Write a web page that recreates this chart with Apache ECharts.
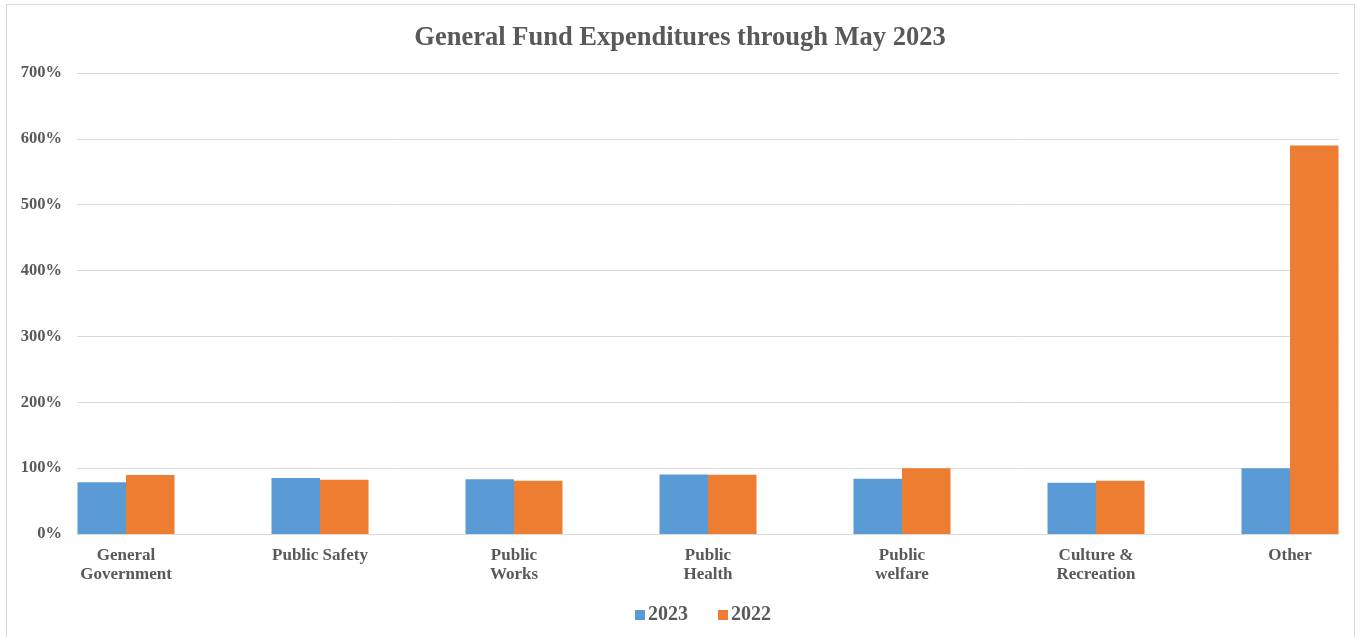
<!DOCTYPE html>
<html>
<head>
<meta charset="utf-8">
<script src="https://cdn.jsdelivr.net/npm/echarts@6/dist/echarts.min.js"></script>
<style>
  html, body { margin: 0; padding: 0; background: #ffffff; }
  #frame { position: absolute; left: 6px; top: 4px; width: 1349px; height: 640px; border: 1px solid #D9D9D9; box-sizing: border-box; }
  #chart { position: absolute; left: 0; top: 0; width: 1360px; height: 637px; }
</style>
</head>
<body>
<div id="frame"></div>
<div id="chart"></div>
<script>
const titleText = 'General Fund Expenditures through May 2023';
const categories = ['General\nGovernment', 'Public Safety', 'Public\nWorks', 'Public\nHealth', 'Public\nwelfare', 'Culture &\nRecreation', 'Other'];
const seriesNames = ['2023', '2022'];
const values2023 = [78.5, 85, 83, 90.5, 84, 78, 100];
const values2022 = [89.5, 82.5, 81, 90, 100, 81, 590];
const yMin = 0, yMax = 700, yStep = 100;

const serif = '"Liberation Serif", "Times New Roman", serif';
const textColor = '#595959';

const chart = echarts.init(document.getElementById('chart'), null, { renderer: 'canvas' });
chart.setOption({
  backgroundColor: 'transparent',
  animation: false,
  title: {
    text: titleText,
    left: 'center',
    top: 20,
    textStyle: { fontFamily: serif, fontWeight: 'bold', fontSize: 26.5, color: textColor }
  },
  legend: {
    data: seriesNames,
    left: 635,
    top: 605,
    padding: 0,
    itemWidth: 10,
    itemHeight: 10,
    itemGap: 30,
    icon: 'rect',
    textStyle: { fontFamily: serif, fontWeight: 'bold', fontSize: 20, color: textColor, padding: [0, 0, 0, -2] }
  },
  grid: [
    { left: 77, width: 1262, top: 73, height: 461 },
    { left: 126, width: 1164, top: 73, height: 461 }
  ],
  xAxis: [
    { type: 'category', gridIndex: 0, data: categories, show: false },
    {
      type: 'category', gridIndex: 1, data: categories, boundaryGap: false,
      axisLine: { show: false }, axisTick: { show: false },
      axisLabel: { fontFamily: serif, fontWeight: 'bold', fontSize: 17, color: textColor, margin: 12, lineHeight: 19, interval: 0 }
    }
  ],
  yAxis: [
    {
      type: 'value', gridIndex: 0, min: yMin, max: yMax, interval: yStep,
      axisLine: { show: false }, axisTick: { show: false },
      splitLine: { lineStyle: { color: '#D9D9D9', width: 1 } },
      axisLabel: { formatter: '{value}%', fontFamily: serif, fontWeight: 'bold', fontSize: 16.5, color: textColor, margin: 15 }
    },
    { type: 'value', gridIndex: 1, min: yMin, max: yMax, interval: yStep, show: false, splitLine: { show: false } }
  ],
  series: [
    { name: seriesNames[0], type: 'bar', xAxisIndex: 1, yAxisIndex: 1, data: values2023, barWidth: '25%', barGap: '0%', clip: false, itemStyle: { color: '#5B9BD5' } },
    { name: seriesNames[1], type: 'bar', xAxisIndex: 1, yAxisIndex: 1, data: values2022, barWidth: '25%', barGap: '0%', clip: false, itemStyle: { color: '#ED7D31' } }
  ]
});
</script>
</body>
</html>
